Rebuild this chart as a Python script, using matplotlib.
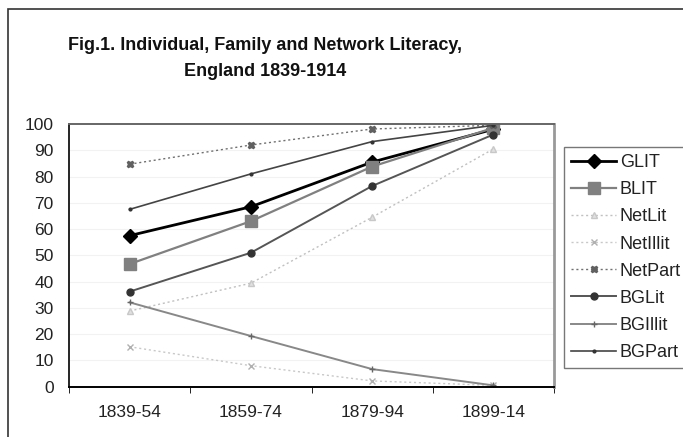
import matplotlib
matplotlib.use("Agg")
import matplotlib.pyplot as plt
from matplotlib.patches import Rectangle

plt.rcParams['font.family'] = ['Liberation Sans', 'DejaVu Sans']

categories = ["1839-54", "1859-74", "1879-94", "1899-14"]
GLIT = [57.5, 68.5, 85.5, 98.0]
BLIT = [46.7, 63.0, 83.8, 98.5]
NetLit = [28.8, 39.4, 64.5, 90.5]
NetIllit = [15.2, 8.0, 2.2, 0.5]
NetPart = [84.7, 92.0, 98.1, 99.5]
BGLit = [36.2, 51.0, 76.4, 96.0]
BGIllit = [32.1, 19.3, 6.7, 0.5]
BGPart = [67.5, 81.0, 93.3, 99.5]
yticks = list(range(0, 101, 10))

W, H = 683, 437
fig = plt.figure(figsize=(W / 100, H / 100), dpi=100)

# outer chart border
fig.patches.append(Rectangle((8 / W, -0.05), 1.2, (H - 9) / H + 0.05,
                             transform=fig.transFigure, fill=False,
                             edgecolor='#333333', linewidth=1.2))

left, right, top, bottom = 69, 554, 124, 386.7
ax = fig.add_axes([left / W, (H - bottom) / H, (right - left) / W, (bottom - top) / H])

x = list(range(len(categories)))
series = [
    ("GLIT", GLIT, dict(color='black', lw=2.0, ls='-', marker='D', ms=7, mfc='black', mec='black')),
    ("BLIT", BLIT, dict(color='#808080', lw=1.6, ls='-', marker='s', ms=9, mfc='#808080', mec='#808080')),
    ("NetLit", NetLit, dict(color='#c0c0c0', lw=1.0, ls=(0, (1.5, 2)), marker='^', ms=4, mfc='#e0e0e0', mec='#c8c8c8')),
    ("NetIllit", NetIllit, dict(color='#c8c8c8', lw=1.0, ls=(0, (1.5, 2)), marker='x', ms=4, mec='#b0b0b0')),
    ("NetPart", NetPart, dict(color='#707070', lw=1.0, ls=(0, (1.5, 2)), marker='X', ms=5, mfc='#606060', mec='#606060')),
    ("BGLit", BGLit, dict(color='#555555', lw=1.4, ls='-', marker='o', ms=5, mfc='#333333', mec='#333333')),
    ("BGIllit", BGIllit, dict(color='#888888', lw=1.4, ls='-', marker='+', ms=5, mec='#666666')),
    ("BGPart", BGPart, dict(color='#444444', lw=1.2, ls='-', marker='.', ms=4, mfc='#333333', mec='#333333')),
]
for name, vals, st in series:
    ax.plot(x, vals, label=name, **st)

ax.set_xlim(-0.5, len(categories) - 0.5)
ax.set_ylim(0, 100)
ax.set_yticks(yticks)
ax.set_yticklabels([str(v) for v in yticks], fontsize=12.5, color='#222222')
ax.set_xticks(x)
ax.set_xticklabels(categories, fontsize=12.5, color='#222222')
ax.set_xticks([i + 0.5 for i in range(-1, len(categories))], minor=True)
ax.tick_params(axis='x', which='major', length=0, pad=13)
ax.tick_params(axis='x', which='minor', length=4, direction='out', color='black')
ax.tick_params(axis='y', length=0, pad=11)
for v in yticks[1:-1]:
    ax.axhline(v, color='#f2f2f2', lw=0.8, zorder=0)

ax.spines['left'].set_color('black')
ax.spines['bottom'].set_color('black')
ax.spines['left'].set_linewidth(1.2)
ax.spines['bottom'].set_linewidth(1.4)
ax.spines['top'].set_color('#666666')
ax.spines['top'].set_linewidth(1.4)
ax.spines['right'].set_color('#999999')
ax.spines['right'].set_linewidth(2.0)

leg = fig.legend(loc='upper left', bbox_to_anchor=(564 / W, (H - 147) / H),
                 fontsize=13, frameon=True, fancybox=False, edgecolor='#555555',
                 handlelength=2.5, labelspacing=0.56, handletextpad=0.2,
                 borderpad=0.4, borderaxespad=0)
leg.get_frame().set_linewidth(1.0)
for t in leg.get_texts():
    t.set_color('#222222')

title_family = ['Liberation Sans', 'DejaVu Sans']
fig.text(265 / W, (H - 45) / H,
         "Fig.1. Individual, Family and Network Literacy,",
         ha='center', va='center', fontsize=13, fontweight='bold',
         family=title_family, color='#111111')
fig.text(265 / W, (H - 72) / H, "England 1839-1914",
         ha='center', va='center', fontsize=13, fontweight='bold',
         family=title_family, color='#111111')

fig.savefig("out.png", dpi=100)
